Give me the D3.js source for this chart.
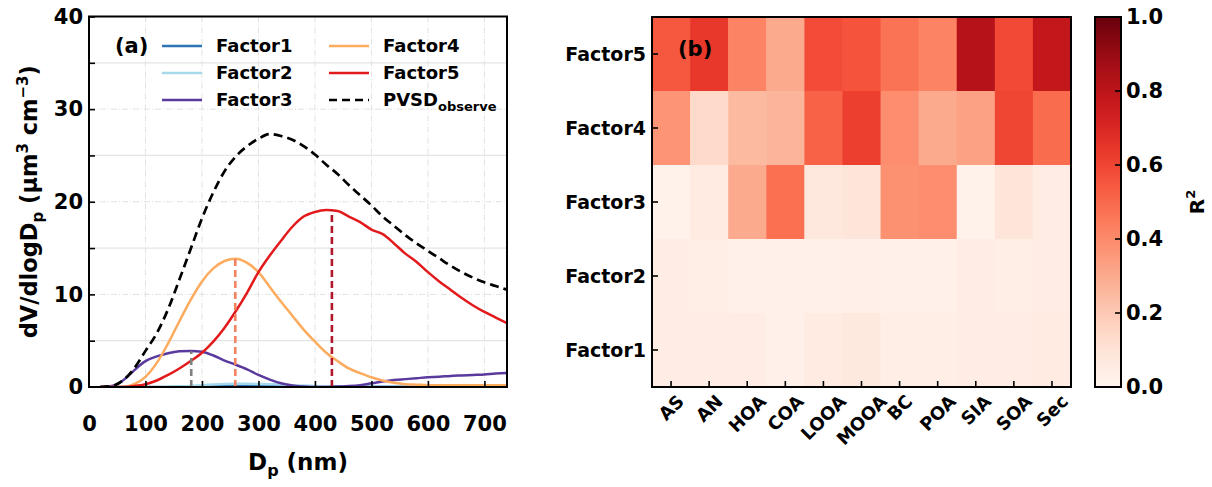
<!DOCTYPE html>
<html>
<head>
<meta charset="utf-8">
<script src="https://cdn.jsdelivr.net/npm/d3@7"></script>
<style>
  body { margin: 0; background: #fff; }
  text { font-family: "DejaVu Sans", sans-serif; font-weight: bold; }
</style>
</head>
<body>
<div id="chart"></div>
<script>
// ---- panel (a) data: volume size distributions ----
var diam = [20,40,60,80,100,120,140,160,180,200,220,240,260,280,300,320,340,360,380,400,
            420,440,460,480,500,520,540,560,580,600,620,640,660,680,700,720,740];
var factor1 = [0,0,0,0,0,0,0.01,0.02,0.03,0.05,0.08,0.1,0.12,0.12,0.11,0.1,0.09,0.08,0.07,0.06,
               0.05,0.04,0.03,0.03,0.02,0.02,0.02,0.02,0.02,0.02,0.02,0.02,0.02,0.02,0.02,0.02,0.02];
var factor2 = [0,0,0,0,0,0.01,0.02,0.05,0.1,0.2,0.28,0.33,0.35,0.35,0.33,0.3,0.26,0.2,0.15,0.1,
               0.07,0.05,0.03,0.02,0.01,0.01,0.01,0.01,0.01,0.01,0.01,0.01,0.01,0.01,0.01,0.01,0.01];
var factor3 = [0,0.1,0.7,1.8,2.8,3.3,3.65,3.85,3.9,3.8,3.4,2.85,2.4,1.9,1.3,0.8,0.4,0.15,0.05,0,
               0,0.05,0.1,0.2,0.4,0.6,0.75,0.85,0.95,1.05,1.1,1.2,1.25,1.3,1.35,1.45,1.5];
var factor4 = [0,0,0,0.3,1.1,2.6,4.7,7.1,9.4,11.4,12.8,13.6,13.85,13.4,12.4,10.8,9.2,7.7,6.2,4.9,
               3.7,2.8,2.0,1.5,1.05,0.7,0.45,0.3,0.25,0.2,0.2,0.2,0.2,0.2,0.2,0.2,0.2];
var factor5 = [0,0,0,0.1,0.3,0.7,1.3,2.0,2.8,3.7,4.9,6.4,8.2,10.2,12.4,14.2,15.8,17.3,18.4,18.9,
               19.1,19.0,18.4,17.8,17.0,16.5,15.5,14.4,13.5,12.4,11.4,10.5,9.6,8.8,8.1,7.5,6.9];
var pvsd    = [0,0.1,0.7,2.0,3.9,5.8,8.4,11.6,14.9,18.2,21.0,23.3,24.9,26.0,26.8,27.3,27.1,26.7,26.0,25.1,
               24.0,23.0,21.8,20.7,19.6,18.4,17.4,16.4,15.5,14.7,13.9,13.1,12.4,11.8,11.3,10.9,10.5];
var peakD = [181, 259, 430];
var peakV = [3.85, 13.85, 19.1];
var peakColors = ["#808080", "#f4845f", "#b2182b"];

var seriesNames = ["Factor1","Factor2","Factor3","Factor4","Factor5"];
var seriesColors = ["#2f74b5","#a6d9ec","#5b3a9e","#fdab5e","#e31a1c"];
var xTicks = [0,100,200,300,400,500,600,700];
var yTicks = [0,10,20,30,40];

// ---- panel (b) data: R2 heatmap ----
var species = ["AS","AN","HOA","COA","LOOA","MOOA","BC","POA","SIA","SOA","Sec"];
var factorsB = ["Factor5","Factor4","Factor3","Factor2","Factor1"];
var r2F5 = [0.55,0.64,0.42,0.30,0.58,0.56,0.47,0.42,0.82,0.59,0.78];
var r2F4 = [0.37,0.14,0.25,0.27,0.52,0.62,0.39,0.30,0.33,0.60,0.49];
var r2F3 = [0.02,0.06,0.30,0.48,0.08,0.09,0.38,0.39,0.02,0.09,0.05];
var r2F2 = [0.05,0.04,0.03,0.03,0.03,0.035,0.03,0.03,0.05,0.04,0.045];
var r2F1 = [0.05,0.05,0.045,0.03,0.06,0.07,0.04,0.04,0.05,0.05,0.06];
var cbTicks = [0,0.2,0.4,0.6,0.8,1.0];

var svg = d3.select("#chart").append("svg")
    .attr("width", 1212).attr("height", 487);

// ================= panel (a) =================
var a = {left: 89, right: 507, top: 16.5, bottom: 387};
var x = d3.scaleLinear().domain([0, 740]).range([a.left, a.right]);
var y = d3.scaleLinear().domain([0, 40]).range([a.bottom, a.top]);

var gA = svg.append("g");

// grid: dash-dot at majors, solid light at minor y
gA.selectAll(".vgrid").data(xTicks.slice(1)).enter().append("line")
    .attr("x1", d=>x(d)).attr("x2", d=>x(d)).attr("y1", a.top).attr("y2", a.bottom)
    .attr("stroke", "#e2e2e2").attr("stroke-width", 1).attr("stroke-dasharray", "6,2,1,2");
gA.selectAll(".hgrid").data([10,20,30]).enter().append("line")
    .attr("x1", a.left).attr("x2", a.right).attr("y1", d=>y(d)).attr("y2", d=>y(d))
    .attr("stroke", "#e2e2e2").attr("stroke-width", 1).attr("stroke-dasharray", "6,2,1,2");
gA.selectAll(".hgridm").data([5,15,25,35]).enter().append("line")
    .attr("x1", a.left).attr("x2", a.right).attr("y1", d=>y(d)).attr("y2", d=>y(d))
    .attr("stroke", "#e4e4e4").attr("stroke-width", 1.2);

var line = d3.line().x((d,i)=>x(diam[i])).y(d=>y(d)).curve(d3.curveMonotoneX);
var seriesData = [factor1, factor2, factor3, factor4, factor5];

var clip = svg.append("clipPath").attr("id", "clipA").append("rect")
    .attr("x", a.left).attr("y", a.top).attr("width", a.right - a.left).attr("height", a.bottom - a.top);

seriesData.forEach(function(s, i){
    gA.append("path").datum(s)
        .attr("d", line).attr("fill", "none")
        .attr("stroke", seriesColors[i]).attr("stroke-width", 2.5)
        .attr("clip-path", "url(#clipA)");
});
gA.append("path").datum(pvsd)
    .attr("d", line).attr("fill", "none")
    .attr("stroke", "#000").attr("stroke-width", 2.7).attr("stroke-dasharray", "9,5")
    .attr("clip-path", "url(#clipA)");

gA.selectAll(".peak").data(peakD).enter().append("line")
    .attr("x1", d=>x(d)).attr("x2", d=>x(d))
    .attr("y1", y(0)).attr("y2", (d,i)=>y(peakV[i]))
    .attr("stroke", (d,i)=>peakColors[i]).attr("stroke-width", 2.6)
    .attr("stroke-dasharray", "7,4");

// axes with inward ticks
var xAxis = d3.axisBottom(x).tickValues(xTicks).tickSize(-6).tickPadding(29);
var yAxis = d3.axisLeft(y).tickValues(d3.range(0, 41, 5)).tickSize(-6).tickPadding(6)
    .tickFormat(d => d % 10 === 0 ? d : "");
var gx = gA.append("g").attr("transform", "translate(0," + a.bottom + ")").call(xAxis);
var gy = gA.append("g").attr("transform", "translate(" + a.left + ",0)").call(yAxis);
[gx, gy].forEach(function(g){
    g.select(".domain").remove();
    g.selectAll(".tick line").attr("stroke", "#000").attr("stroke-width", 1.6);
    g.selectAll(".tick text").attr("font-size", 21).attr("fill", "#000")
        .attr("font-family", "DejaVu Sans").attr("font-weight", "bold");
});
gx.selectAll(".tick").filter(d => d === 0).select("line").remove();
gy.selectAll(".tick").filter(d => d === 0).select("line").remove();

gA.append("rect").attr("x", a.left).attr("y", a.top)
    .attr("width", a.right - a.left).attr("height", a.bottom - a.top)
    .attr("fill", "none").attr("stroke", "#000").attr("stroke-width", 2);

// axis labels
var xl = gA.append("text").attr("x", 298).attr("y", 470).attr("text-anchor", "middle")
    .attr("font-size", 23);
xl.append("tspan").text("D");
xl.append("tspan").text("p").attr("font-size", 16).attr("dy", 6);
xl.append("tspan").text(" (nm)").attr("dy", -6);

var yl = gA.append("text").attr("transform", "translate(37," + (a.top + a.bottom)/2 + ") rotate(-90)")
    .attr("text-anchor", "middle").attr("font-size", 22.5);
yl.append("tspan").text("dV/dlogD");
yl.append("tspan").text("p").attr("font-size", 15).attr("dy", 6);
yl.append("tspan").text(" (\u03bcm").attr("dy", -6);
yl.append("tspan").text("3").attr("font-size", 15).attr("dy", -9);
yl.append("tspan").text(" cm").attr("dy", 9);
yl.append("tspan").text("\u22123").attr("font-size", 15).attr("dy", -9);
yl.append("tspan").text(")").attr("dy", 9);

// legend
gA.append("text").attr("x", 115).attr("y", 46).attr("dy", "0.35em")
    .attr("font-size", 21).text("(a)");
var legItems = seriesNames.concat(["PVSD"]);
var legColors = seriesColors.concat(["#000"]);
legItems.forEach(function(name, i){
    var col = i < 3 ? 0 : 1, row = i % 3;
    var lx = col === 0 ? 162 : 329, tx = col === 0 ? 216 : 383;
    var ly = 46 + row * 27;
    gA.append("line").attr("x1", lx).attr("x2", lx + 40).attr("y1", ly).attr("y2", ly)
        .attr("stroke", legColors[i]).attr("stroke-width", 2.6)
        .attr("stroke-dasharray", name === "PVSD" ? "8,5" : null);
    var t = gA.append("text").attr("x", tx).attr("y", ly).attr("dy", "0.35em").attr("font-size", 18);
    t.append("tspan").text(name);
    if (name === "PVSD") t.append("tspan").text("observe").attr("font-size", 13).attr("dy", 5);
});

// ================= panel (b) =================
var b = {left: 652, right: 1071, top: 17, bottom: 387};
var bx = d3.scaleBand().domain(species).range([b.left, b.right]);
var by = d3.scaleBand().domain(factorsB).range([b.top, b.bottom]);
var color = d3.scaleSequential(d3.interpolateReds).domain([0, 1]);
var r2Rows = [r2F5, r2F4, r2F3, r2F2, r2F1];

var gB = svg.append("g");
r2Rows.forEach(function(row, j){
    gB.selectAll(".r" + j).data(row).enter().append("rect")
        .attr("x", (d,i)=>bx(species[i])).attr("y", by(factorsB[j]))
        .attr("width", bx.bandwidth() + 0.5).attr("height", by.bandwidth() + 0.5)
        .attr("fill", d=>color(d));
});
gB.append("rect").attr("x", b.left).attr("y", b.top)
    .attr("width", b.right - b.left).attr("height", b.bottom - b.top)
    .attr("fill", "none").attr("stroke", "#000").attr("stroke-width", 2);

// inward ticks
gB.selectAll(".xt").data(species).enter().append("line")
    .attr("x1", d=>bx(d) + bx.bandwidth()/2).attr("x2", d=>bx(d) + bx.bandwidth()/2)
    .attr("y1", b.bottom).attr("y2", b.bottom - 6)
    .attr("stroke", "#000").attr("stroke-width", 1.6);
gB.selectAll(".yt").data(factorsB).enter().append("line")
    .attr("x1", b.left).attr("x2", b.left + 6)
    .attr("y1", d=>by(d) + by.bandwidth()/2).attr("y2", d=>by(d) + by.bandwidth()/2)
    .attr("stroke", "#000").attr("stroke-width", 1.6);

gB.selectAll(".yl").data(factorsB).enter().append("text")
    .attr("x", b.left - 6).attr("y", d=>by(d) + by.bandwidth()/2).attr("dy", "0.35em")
    .attr("text-anchor", "end").attr("font-size", 19).text(d=>d);

// rotated category labels, bbox centred on the tick, top just under the axis
gB.selectAll(".xl").data(species).enter().append("text")
    .attr("text-anchor", "middle").attr("dominant-baseline", "central")
    .attr("font-size", 18).text(d=>d)
    .each(function(d){
        var L = this.getComputedTextLength(), h = 14;
        var half = (L + h) / (2 * Math.SQRT2);
        var cx = bx(d) + bx.bandwidth()/2, cy = b.bottom + 6 + half;
        d3.select(this).attr("transform", "translate(" + cx + "," + cy + ") rotate(-45)");
    });

gB.append("text").attr("x", 678).attr("y", 49).attr("dy", "0.35em")
    .attr("font-size", 21).text("(b)");

// colorbar
var cb = {left: 1095, right: 1121, top: 17, bottom: 387};
var grad = svg.append("defs").append("linearGradient").attr("id", "cbGrad")
    .attr("x1", 0).attr("y1", 1).attr("x2", 0).attr("y2", 0);
d3.range(0, 1.0001, 0.05).forEach(function(t){
    grad.append("stop").attr("offset", t).attr("stop-color", color(t));
});
svg.append("rect").attr("x", cb.left).attr("y", cb.top)
    .attr("width", cb.right - cb.left).attr("height", cb.bottom - cb.top)
    .attr("fill", "url(#cbGrad)").attr("stroke", "#000").attr("stroke-width", 2);
var cy = d3.scaleLinear().domain([0, 1]).range([cb.bottom, cb.top]);
svg.selectAll(".cbt").data(cbTicks.slice(1, 5)).enter().append("line")
    .attr("x1", cb.right).attr("x2", cb.right - 6).attr("y1", d=>cy(d)).attr("y2", d=>cy(d))
    .attr("stroke", "#000").attr("stroke-width", 1.6);
svg.selectAll(".cbl").data(cbTicks).enter().append("text")
    .attr("x", cb.right + 5).attr("y", d=>cy(d)).attr("dy", "0.35em")
    .attr("font-size", 21).text(d=>d.toFixed(1));
var r2l = svg.append("text").attr("transform", "translate(1204,202) rotate(-90)")
    .attr("text-anchor", "middle").attr("font-size", 20);
r2l.append("tspan").text("R");
r2l.append("tspan").text("2").attr("font-size", 13).attr("dy", -9);
</script>
</body>
</html>
